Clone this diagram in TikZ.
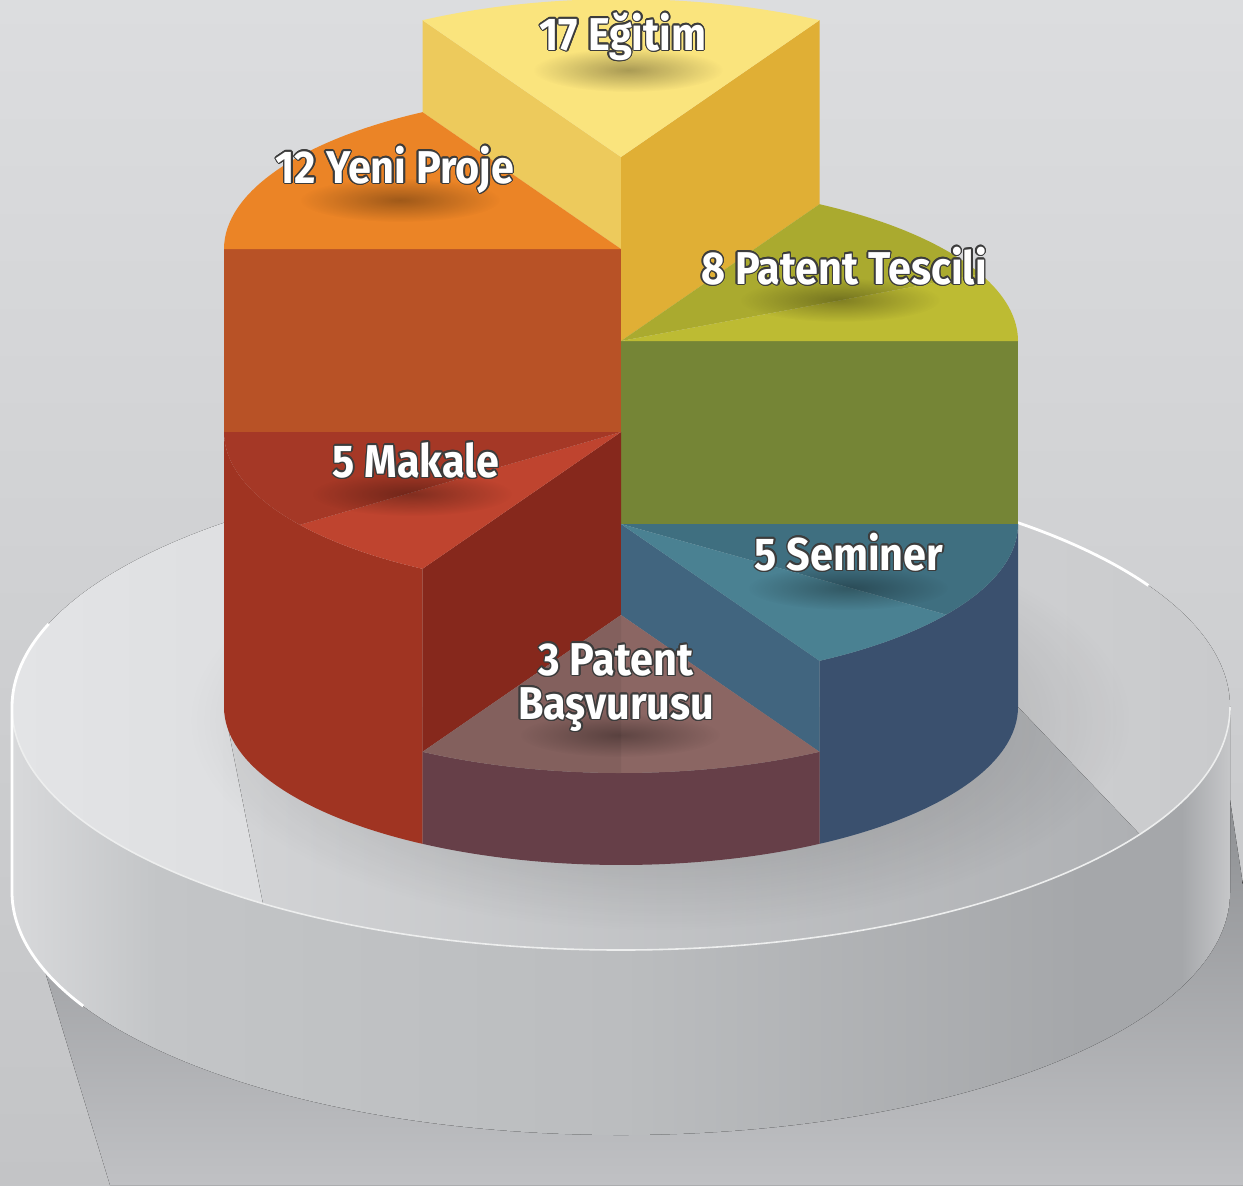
\documentclass[tikz,border=0pt]{standalone}
\usepackage{fontspec}
\setmainfont{Fira Sans}[FakeStretch=0.9]
\usepackage[copies]{contour}
\usetikzlibrary{fadings}

\definecolor{bgtop}{HTML}{DCDDDF}
\definecolor{bgbot}{HTML}{C3C4C6}
\definecolor{gndtop}{HTML}{8E9093}
\definecolor{gndbot}{HTML}{C0C1C4}
\definecolor{sdA}{HTML}{D8D9DB}
\definecolor{sdB}{HTML}{C3C5C7}
\definecolor{sdC}{HTML}{BBBDBF}
\definecolor{sdD}{HTML}{A5A7AA}
\definecolor{sdE}{HTML}{C6C7C9}
\definecolor{discL}{HTML}{E3E4E6}
\definecolor{discR}{HTML}{C9CACC}
\definecolor{shdL}{HTML}{D3D4D6}
\definecolor{shdR}{HTML}{AEB0B3}
\definecolor{yTop}{HTML}{FAE47D}
\definecolor{yLeft}{HTML}{EDCA5C}
\definecolor{yRight}{HTML}{E0AF35}
\definecolor{oTop}{HTML}{EB8426}
\definecolor{oFront}{HTML}{B85226}
\definecolor{gTopA}{HTML}{AAAA2F}
\definecolor{gTopB}{HTML}{BDBB33}
\definecolor{gFront}{HTML}{758536}
\definecolor{rTopA}{HTML}{A53826}
\definecolor{rTopB}{HTML}{BF442F}
\definecolor{rSide}{HTML}{A03422}
\definecolor{rRad}{HTML}{86281C}
\definecolor{bTopA}{HTML}{3F6F80}
\definecolor{bTopB}{HTML}{4A8192}
\definecolor{bRad}{HTML}{41657F}
\definecolor{bSide}{HTML}{3A506E}
\definecolor{mTopA}{HTML}{8B6663}
\definecolor{mTopB}{HTML}{83605D}
\definecolor{mSide}{HTML}{663F48}
\definecolor{lineC}{HTML}{3C3C3C}

\pgfdeclarehorizontalshading{discside}{100bp}{color(0bp)=(sdA); color(25bp)=(sdA); color(31bp)=(sdB); color(50bp)=(sdC); color(69bp)=(sdD); color(73bp)=(sdD); color(75bp)=(sdE); color(100bp)=(sdE)}
\tikzfading[name=spotfade, inner color=transparent!0, outer color=transparent!100]
\contourlength{0.7pt}

\tikzset{
  pie/.style={x radius=397, y radius=158},
  disc/.style={x radius=609, y radius=243},
  lbl/.style={text=white, font=\fontsize{23}{22}\selectfont\bfseries, align=center, inner sep=0pt},
  lblshadow/.style={fill=black, fill opacity=0.32, path fading=spotfade},
  rim/.style={draw=white, line width=1.4}
}

\begin{document}
\begin{tikzpicture}[x=0.5pt, y=-0.5pt]
  \useasboundingbox (0,0) rectangle (1243,1185);
  \fill[top color=bgtop, bottom color=bgbot] (0,0) rectangle (1243,1185);
  \fill[top color=gndtop, bottom color=gndbot] (12,800) -- (40,955) -- (110,1185) -- (1243,1185) -- (1243,885) -- (1230,800) -- cycle;

  % pedestal
  \fill[shading=discside] (12,707) -- (12,892) arc[disc, start angle=180, end angle=0] -- (1230,707) arc[disc, start angle=0, end angle=180] -- cycle;
  \fill[left color=discL, right color=discR] (621,707) ellipse[disc];
  \fill[left color=shdL, right color=shdR] (224,707) -- ([shift={(621,707)}]126:609 and 243) arc[disc, start angle=126, end angle=31.6] -- (1018,707) -- cycle;
  \fill[black, fill opacity=0.3, path fading=spotfade] (660,720) ellipse[x radius=470, y radius=210];
  \draw[white!70!sdB, line width=0.8] (1230,707) arc[disc, start angle=0, end angle=180];
  \draw[rim] ([shift={(621,707)}]200:609 and 243) arc[disc, start angle=200, end angle=180] -- (12,892) arc[disc, start angle=180, end angle=152];
  \draw[rim] ([shift={(621,707)}]310:609 and 243) arc[disc, start angle=310, end angle=330];

  % 17 Egitim
  \fill[yLeft] (621,157) -- (422.5,20.2) -- (422.5,112.2) -- (621,249) -- cycle;
  \fill[yRight] (621,157) -- (819.5,20.2) -- (819.5,204.2) -- (621,341) -- cycle;
  \fill[yTop] (621,157) -- (422.5,20.2) arc[pie, start angle=240, end angle=300] -- cycle;

  % 12 Yeni Proje
  \fill[oFront] (224,249) rectangle (621,432);
  \fill[oTop] (621,249) -- (224,249) arc[pie, start angle=180, end angle=240] -- cycle;

  % 8 Patent Tescili
  \fill[gFront] (621,341) rectangle (1018,524);
  \fill[gTopA] (621,341) -- (819.5,204.2) arc[pie, start angle=300, end angle=335] -- cycle;
  \fill[gTopB] (621,341) -- ([shift={(621,341)}]335:397 and 158) arc[pie, start angle=335, end angle=360] -- cycle;

  % 5 Makale
  \fill[rSide] (224,432) -- (224,707) arc[pie, start angle=180, end angle=120] -- (422.5,568.8) arc[pie, start angle=120, end angle=180] -- cycle;
  \fill[rRad] (621,432) -- (422.5,568.8) -- (422.5,751.8) -- (621,615) -- cycle;
  \fill[rTopB] (621,432) -- (422.5,568.8) arc[pie, start angle=120, end angle=144] -- cycle;
  \fill[rTopA] (621,432) -- ([shift={(621,432)}]144:397 and 158) arc[pie, start angle=144, end angle=180] -- cycle;

  % 5 Seminer
  \fill[bSide] (1018,524) -- (1018,707) arc[pie, start angle=0, end angle=60] -- (819.5,660.8) arc[pie, start angle=60, end angle=0] -- cycle;
  \fill[bRad] (621,524) -- (819.5,660.8) -- (819.5,751.8) -- (621,615) -- cycle;
  \fill[bTopA] (621,524) -- (1018,524) arc[pie, start angle=0, end angle=35] -- cycle;
  \fill[bTopB] (621,524) -- ([shift={(621,524)}]35:397 and 158) arc[pie, start angle=35, end angle=60] -- cycle;

  % 3 Patent Basvurusu
  \fill[mSide] (819.5,751.8) -- (819.5,843.8) arc[pie, start angle=60, end angle=120] -- (422.5,751.8) arc[pie, start angle=120, end angle=60] -- cycle;
  \fill[mTopA] (621,615) -- (819.5,751.8) arc[pie, start angle=60, end angle=90] -- cycle;
  \fill[mTopB] (621,615) -- (621,773) arc[pie, start angle=90, end angle=120] -- cycle;

  % labels
  \fill[lblshadow] (628,70) ellipse[x radius=95, y radius=22];
  \fill[lblshadow] (400,200) ellipse[x radius=100, y radius=22];
  \fill[lblshadow] (840,300) ellipse[x radius=100, y radius=22];
  \fill[lblshadow] (412,494) ellipse[x radius=100, y radius=22];
  \fill[lblshadow] (848,588) ellipse[x radius=100, y radius=22];
  \fill[lblshadow] (620,735) ellipse[x radius=100, y radius=22];

  \node[lbl, anchor=base] (egitim) at (623,50) {\contour{lineC}{17 Eğitim}};
  \node[lbl, anchor=base] (proje) at (395,183) {\contour{lineC}{12 Yeni Proje}};
  \node[lbl, anchor=base] (tescil) at (844,284) {\contour{lineC}{8 Patent Tescili}};
  \node[lbl, anchor=base] (makale) at (416,477) {\contour{lineC}{5 Makale}};
  \node[lbl, anchor=base] (seminer) at (849,570) {\contour{lineC}{5 Seminer}};
  \node[lbl] (basvuru) at (616,688) {\contour{lineC}{3 Patent}\\\contour{lineC}{Başvurusu}};
\end{tikzpicture}
\end{document}
